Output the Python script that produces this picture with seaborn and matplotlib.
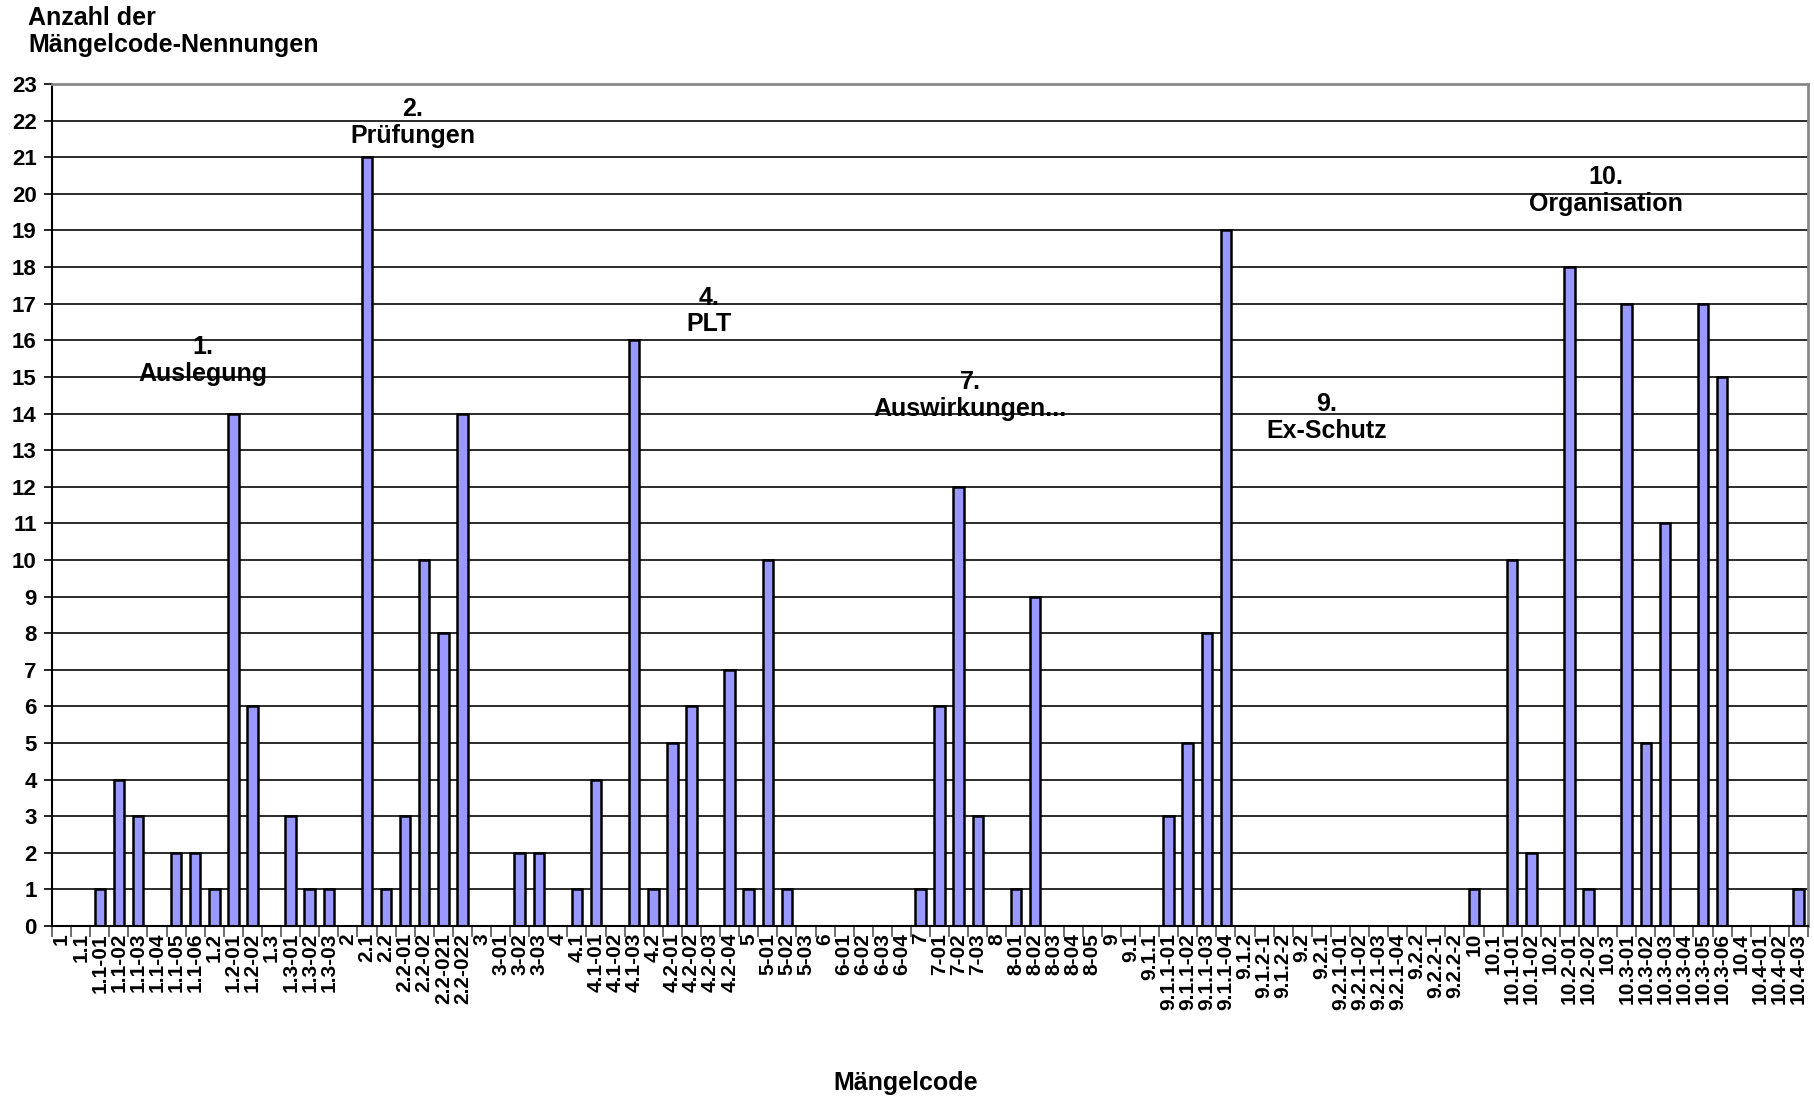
import pandas as pd
import matplotlib.pyplot as plt
import seaborn as sns

# Mängelcodes (x categories) and their counts
codes = [
    "1", "1.1", "1.1-01", "1.1-02", "1.1-03", "1.1-04", "1.1-05", "1.1-06",
    "1.2", "1.2-01", "1.2-02", "1.3", "1.3-01", "1.3-02", "1.3-03",
    "2", "2.1", "2.2", "2.2-01", "2.2-02", "2.2-021", "2.2-022",
    "3", "3-01", "3-02", "3-03",
    "4", "4.1", "4.1-01", "4.1-02", "4.1-03", "4.2", "4.2-01", "4.2-02", "4.2-03", "4.2-04",
    "5", "5-01", "5-02", "5-03",
    "6", "6-01", "6-02", "6-03", "6-04",
    "7", "7-01", "7-02", "7-03",
    "8", "8-01", "8-02", "8-03", "8-04", "8-05",
    "9", "9.1", "9.1.1", "9.1.1-01", "9.1.1-02", "9.1.1-03", "9.1.1-04",
    "9.1.2", "9.1.2-1", "9.1.2-2", "9.2", "9.2.1", "9.2.1-01", "9.2.1-02",
    "9.2.1-03", "9.2.1-04", "9.2.2", "9.2.2-1", "9.2.2-2",
    "10", "10.1", "10.1-01", "10.1-02", "10.2", "10.2-01", "10.2-02",
    "10.3", "10.3-01", "10.3-02", "10.3-03", "10.3-04", "10.3-05", "10.3-06",
    "10.4", "10.4-01", "10.4-02", "10.4-03",
]
counts = [
    0, 0, 1, 4, 3, 0, 2, 2,
    1, 14, 6, 0, 3, 1, 1,
    0, 21, 1, 3, 10, 8, 14,
    0, 0, 2, 2,
    0, 1, 4, 0, 16, 1, 5, 6, 0, 7,
    1, 10, 1, 0,
    0, 0, 0, 0, 0,
    1, 6, 12, 3,
    0, 1, 9, 0, 0, 0,
    0, 0, 0, 3, 5, 8, 19,
    0, 0, 0, 0, 0, 0, 0,
    0, 0, 0, 0, 0,
    1, 0, 10, 2, 0, 18, 1,
    0, 17, 5, 11, 0, 17, 15,
    0, 0, 0, 1,
]

# group headings
group_labels = ["1.\nAuslegung", "2.\nPrüfungen", "4.\nPLT",
                "7.\nAuswirkungen...", "9.\nEx-Schutz", "10.\nOrganisation"]
# layout: (x in category units, y in data units) for each heading
group_pos = [(7.4, 15.45), (18.4, 21.95), (33.9, 16.8),
             (47.6, 14.5), (66.3, 13.9), (80.9, 20.1)]

df = pd.DataFrame({"code": codes, "count": counts})

plt.rcParams["font.family"] = ["Liberation Sans", "DejaVu Sans"]
fig = plt.figure(figsize=(18.14, 11.04), dpi=100)
ax = fig.add_axes([0.0287, 0.1612, 0.968, 0.7627])

sns.barplot(data=df, x="code", y="count", order=codes, color="#9999ff",
            saturation=1, width=0.55, edgecolor="black", linewidth=1.8, ax=ax)

ax.set_xlim(-0.5, len(codes) - 0.5)
ax.set_ylim(0, 23)
ax.set_yticks(range(0, 24))
ax.yaxis.grid(True, color="#1a1a1a", linewidth=1.3)
ax.set_axisbelow(True)

# ticks between categories, labels at category centres
ax.set_xticks([i - 0.5 for i in range(len(codes) + 1)], minor=False)
ax.set_xticklabels([])
ax.set_xticks(range(len(codes)), minor=True)
ax.set_xticklabels(codes, minor=True, rotation=90, fontsize=15,
                   fontweight="bold")
ax.tick_params(axis="x", which="major", length=8, width=1.2, color="#555555")
ax.tick_params(axis="x", which="minor", length=0, pad=5)
ax.tick_params(axis="y", length=6, width=1.2, labelsize=16, pad=5)
for lab in ax.get_yticklabels():
    lab.set_fontweight("bold")

for sp in ["top", "right"]:
    ax.spines[sp].set_color("#888888")
    ax.spines[sp].set_linewidth(2)
ax.spines["left"].set_color("black")
ax.spines["bottom"].set_color("black")
ax.spines["left"].set_linewidth(1.5)
ax.spines["bottom"].set_linewidth(1.5)

ax.set_xlabel("")
ax.set_ylabel("")

for txt, (gx, gy) in zip(group_labels, group_pos):
    ax.text(gx, gy, txt, ha="center", va="center", fontsize=18,
            fontweight="bold", linespacing=1.15)

fig.text(0.0154, 0.995, "Anzahl der\nMängelcode-Nennungen", ha="left", va="top",
         fontsize=18, fontweight="bold", linespacing=1.2)
fig.text(0.4995, 0.008, "Mängelcode", ha="center", va="bottom",
         fontsize=18, fontweight="bold")

plt.savefig("out.png", dpi=100)
